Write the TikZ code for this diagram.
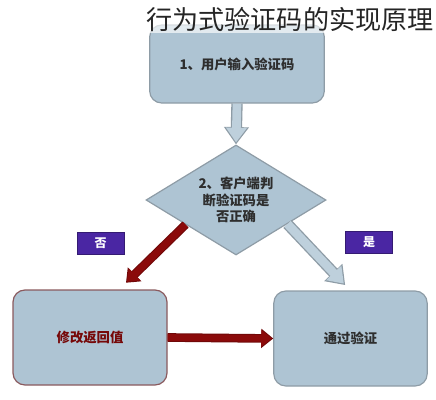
\documentclass[tikz,border=0pt]{standalone}
\usepackage{fontspec}
\usetikzlibrary{shapes.geometric, arrows.meta}
\newfontfamily\cjk{Noto Sans CJK SC}
\definecolor{box-blue}{HTML}{AEC4D3}
\definecolor{box-edge}{HTML}{8E9CA6}
\definecolor{red-edge}{HTML}{8A5A5E}
\definecolor{dark-red}{HTML}{8B0A0A}
\definecolor{label-purple}{HTML}{4A26A3}
\definecolor{text-gray}{HTML}{2E2E2E}
\tikzset{
  stepbox/.style={draw=box-edge, line width=0.9pt, fill=box-blue, rounded corners=9pt,
    text=text-gray, font=\cjk\bfseries\fontsize{10}{12.5}\selectfont, align=center},
  yesno/.style={fill=label-purple, draw=label-purple!70!black, minimum width=35pt,
    minimum height=16.5pt, inner sep=0pt, text=white, font=\cjk\bfseries\fontsize{9}{10}\selectfont},
  redarrow/.style={draw=dark-red!80!black, line width=6.5pt,
    -{Triangle[length=9pt, width=14pt]}, postaction={draw=dark-red, line width=5pt,
    shorten >=1pt, -{Triangle[length=8pt, width=12pt]}}},
  bluearrow/.style={draw=box-edge, line width=8.5pt,
    -{Triangle[length=13pt, width=18pt]}, postaction={draw=box-blue!80!white, line width=6.5pt,
    shorten >=1.5pt, -{Triangle[length=11pt, width=15pt]}}}
}

\begin{document}
\begin{tikzpicture}[x=0.75pt, y=-0.75pt]
        % Canvas
        \useasboundingbox (0, 0) rectangle (436, 400);
        % Step 1 box
        \node [stepbox, minimum width=131pt, minimum height=58.5pt] (input) at (237, 64)
              {1、用户输入验证码};
        % Title
        \node [fill=white, fill opacity=0.65, text opacity=1, inner sep=1pt,
               font=\cjk\fontsize{19.6}{22}\selectfont, text=text-gray!80!black] (title) at (290, 20)
              {行为式验证码的实现原理};
        % Step 2 diamond
        \node [stepbox, diamond, aspect=1.64, inner sep=0pt, minimum width=135pt,
               minimum height=82.5pt, rounded corners=0pt] (check) at (236, 200)
              {2、客户端判\\断验证码是\\否正确};
        % Fail box
        \node [stepbox, draw=red-edge, text=dark-red!85!black, minimum width=115.5pt,
               minimum height=71.25pt] (modify) at (90, 337.5) {修改返回值};
        % Pass box
        \node [stepbox, minimum width=115pt, minimum height=71.25pt] (pass) at (350.5, 338.5)
              {通过验证};
        % No label
        \node [yesno] (no) at (100.5, 243) {否};
        % Yes label
        \node [yesno] (yes) at (369, 242.5) {是};
        % Input to check arrow
        \draw [bluearrow] (input.south) -- (check.north);
        % Check to fail arrow
        \draw [redarrow] (check.206) -- ([xshift=27pt, yshift=5pt]modify.north);
        % Check to pass arrow
        \draw [bluearrow] (check.335) -- ([xshift=-4pt, yshift=4pt]pass.north);
        % Fail to pass arrow
        \draw [redarrow] (modify.east) -- (pass.west);
\end{tikzpicture}
\end{document}
